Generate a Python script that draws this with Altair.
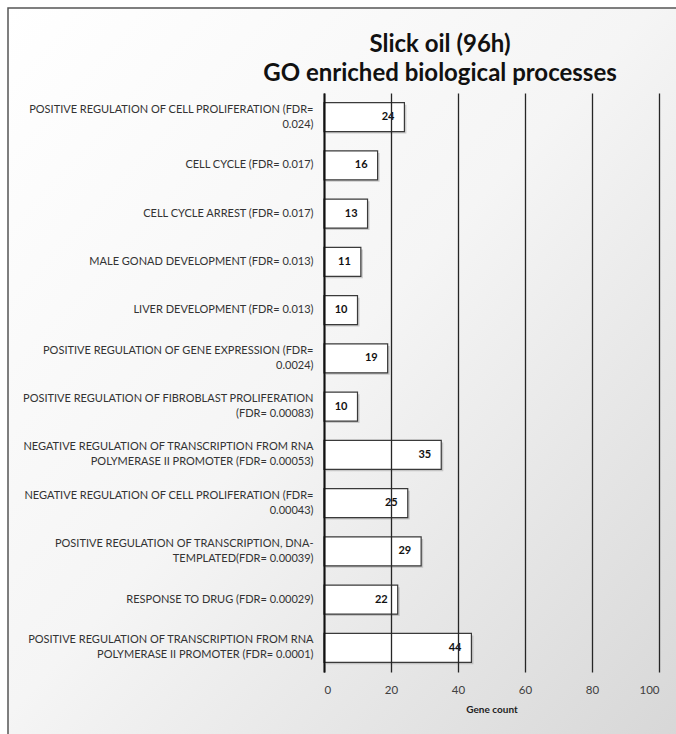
import altair as alt
import pandas as pd

terms = [
    "POSITIVE REGULATION OF CELL PROLIFERATION (FDR=|0.024)",
    "CELL CYCLE (FDR= 0.017)",
    "CELL CYCLE ARREST (FDR= 0.017)",
    "MALE GONAD DEVELOPMENT (FDR= 0.013)",
    "LIVER DEVELOPMENT (FDR= 0.013)",
    "POSITIVE REGULATION OF GENE EXPRESSION (FDR=|0.0024)",
    "POSITIVE REGULATION OF FIBROBLAST PROLIFERATION|(FDR= 0.00083)",
    "NEGATIVE REGULATION OF TRANSCRIPTION FROM RNA|POLYMERASE II PROMOTER (FDR= 0.00053)",
    "NEGATIVE REGULATION OF CELL PROLIFERATION (FDR=|0.00043)",
    "POSITIVE REGULATION OF TRANSCRIPTION, DNA-|TEMPLATED(FDR= 0.00039)",
    "RESPONSE TO DRUG (FDR= 0.00029)",
    "POSITIVE REGULATION OF TRANSCRIPTION FROM RNA|POLYMERASE II PROMOTER (FDR= 0.0001)",
]
counts = [24, 16, 13, 11, 10, 19, 10, 35, 25, 29, 22, 44]
x_ticks = [0, 20, 40, 60, 80, 100]
title_lines = ["Slick oil (96h)", "GO enriched biological processes"]

df = pd.DataFrame({"term": terms, "count": counts})

FONT = "Lato"

x_enc = alt.X(
    "count:Q",
    scale=alt.Scale(domain=[0, 100], nice=False),
    axis=alt.Axis(
        values=x_ticks, title="Gene count", titleFont=FONT, titleFontSize=10,
        titleFontWeight="bold", titleColor="#222", titlePadding=9,
        labelFont=FONT, labelFontSize=11.5, labelColor="#404040", labelPadding=12,
        domain=False, ticks=False, grid=True, gridColor="#262626", gridWidth=1.3,
        zindex=1,
    ),
)
y_enc = alt.Y(
    "term:N", sort=terms,
    scale=alt.Scale(paddingInner=0.4, paddingOuter=0.2),
    axis=alt.Axis(
        title=None, labelExpr="split(datum.label, '|')", labelFont=FONT,
        labelFontSize=11, labelColor="#333", labelPadding=11, labelLineHeight=15,
        labelLimit=320, ticks=False, domain=True, domainColor="#111",
        domainWidth=2, grid=False, zindex=1,
        labelOffset={
            "condition": {"test": "indexof(datum.label, '|') >= 0", "value": -7.5},
            "value": 0,
        },
    ),
)

bg = alt.Chart(df.head(1)).mark_rect(
    fill={
        "gradient": "linear", "x1": 0, "y1": 0, "x2": 1, "y2": 1,
        "stops": [
            {"offset": 0, "color": "#ffffff"},
            {"offset": 0.45, "color": "#f5f5f5"},
            {"offset": 1, "color": "#d3d3d3"},
        ],
    },
    stroke="#555", strokeWidth=1.5,
).encode(
    x=alt.value(-316), x2=alt.value(400), y=alt.value(-85), y2=alt.value(700)
)

title = alt.Chart(pd.DataFrame({"t": [title_lines]})).mark_text(
    font=FONT, fontSize=24, fontWeight="bold", color="#111",
    align="center", baseline="middle", lineHeight=29,
).encode(x=alt.value(116), y=alt.value(-48), text="t")

shadow = alt.Chart(df).mark_bar(
    color="#8a8a8a", opacity=0.4, xOffset=2, yOffset=2
).encode(x=x_enc, y=y_enc)

bars = alt.Chart(df).mark_bar(
    fill="white", stroke="#3a3a3a", strokeWidth=1.2
).encode(x=x_enc, y=y_enc)

labels = alt.Chart(df).mark_text(
    align="right", dx=-10, font=FONT, fontSize=11, fontWeight="bold", color="#111"
).encode(x=x_enc, y=y_enc, text="count:Q")

chart = alt.layer(bg, title, shadow, bars, labels).properties(
    width=335, height=579,
    autosize=alt.AutoSizeParams(type="none"),
    padding={"left": 324, "top": 93, "right": 17, "bottom": 62},
).configure_view(stroke=None).configure(background="white")

chart.save("out.html", embed_options={"renderer": "svg", "actions": False})
